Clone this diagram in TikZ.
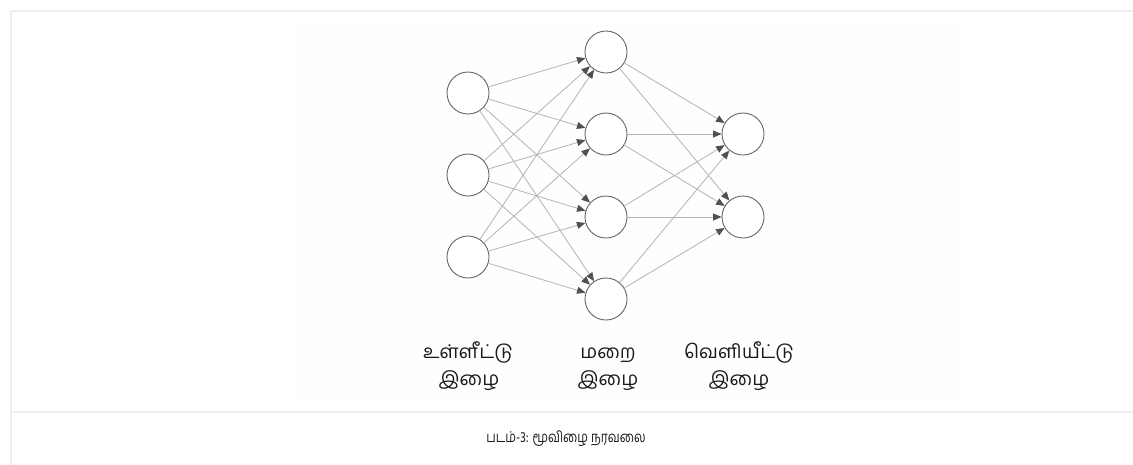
\documentclass[tikz,border=0pt]{standalone}
\usepackage{fontspec}
\usetikzlibrary{arrows.meta}
\newfontfamily\tamilfont[Script=Tamil]{Hind Madurai}
\definecolor{framegray}{HTML}{EEEEEE}
\definecolor{panelgray}{HTML}{FEFEFE}
\definecolor{edgegray}{HTML}{B4B4B4}
\definecolor{tipgray}{HTML}{505050}
\definecolor{ringgray}{HTML}{666666}
\tikzset{
  neuron/.style={circle, draw=ringgray, line width=0.9pt, minimum size=42pt, inner sep=0pt, fill=white},
  link/.style={draw=edgegray, line width=0.8pt, -{Triangle[length=8.5pt,width=7pt,color=tipgray]}},
  layerlabel/.style={anchor=base, inner sep=0pt, font=\tamilfont\fontsize{19}{28}\selectfont, text=black!90},
  captiontext/.style={font=\tamilfont\fontsize{15}{16}\selectfont, text=black!90},
  frameline/.style={draw=framegray, line width=2pt}
}
\begin{document}
\begin{tikzpicture}[x=1pt, y=-1pt]
  \useasboundingbox (0,0) rectangle (1133,464);
  % page frame and caption separator
  \fill[panelgray] (297,23) rectangle (963,400);
  \draw[frameline] (11,472) -- (11,11) -- (1133,11);
  \draw[frameline] (11,412) -- (1133,412);

  % input layer
  \node[neuron] (i1) at (468,93) {};
  \node[neuron] (i2) at (468,175) {};
  \node[neuron] (i3) at (468,257) {};
  % hidden layer
  \node[neuron] (h1) at (606,52) {};
  \node[neuron] (h2) at (606,134) {};
  \node[neuron] (h3) at (606,217) {};
  \node[neuron] (h4) at (606,299) {};
  % output layer
  \node[neuron] (o1) at (743,134) {};
  \node[neuron] (o2) at (743,217) {};

  % fully connected links
  \foreach \a in {i1,i2,i3}
    \foreach \b in {h1,h2,h3,h4}
      \path[link] (\a) -- (\b);
  \foreach \a in {h1,h2,h3,h4}
    \foreach \b in {o1,o2}
      \path[link] (\a) -- (\b);

  % layer names, two lines each on common baselines
  \node[layerlabel] (li1) at (468,358) {உள்ளீட்டு};
  \node[layerlabel] (li2) at (469,385) {இழை};
  \node[layerlabel] (lh1) at (608,358) {மறை};
  \node[layerlabel] (lh2) at (608,385) {இழை};
  \node[layerlabel] (lo1) at (739,358) {வெளியீட்டு};
  \node[layerlabel] (lo2) at (739,385) {இழை};

  % caption
  \node[captiontext] (cap) at (566,439) {\scalebox{0.8}[1]{படம்-3: மூவிழை நரவலை}};
\end{tikzpicture}
\end{document}
